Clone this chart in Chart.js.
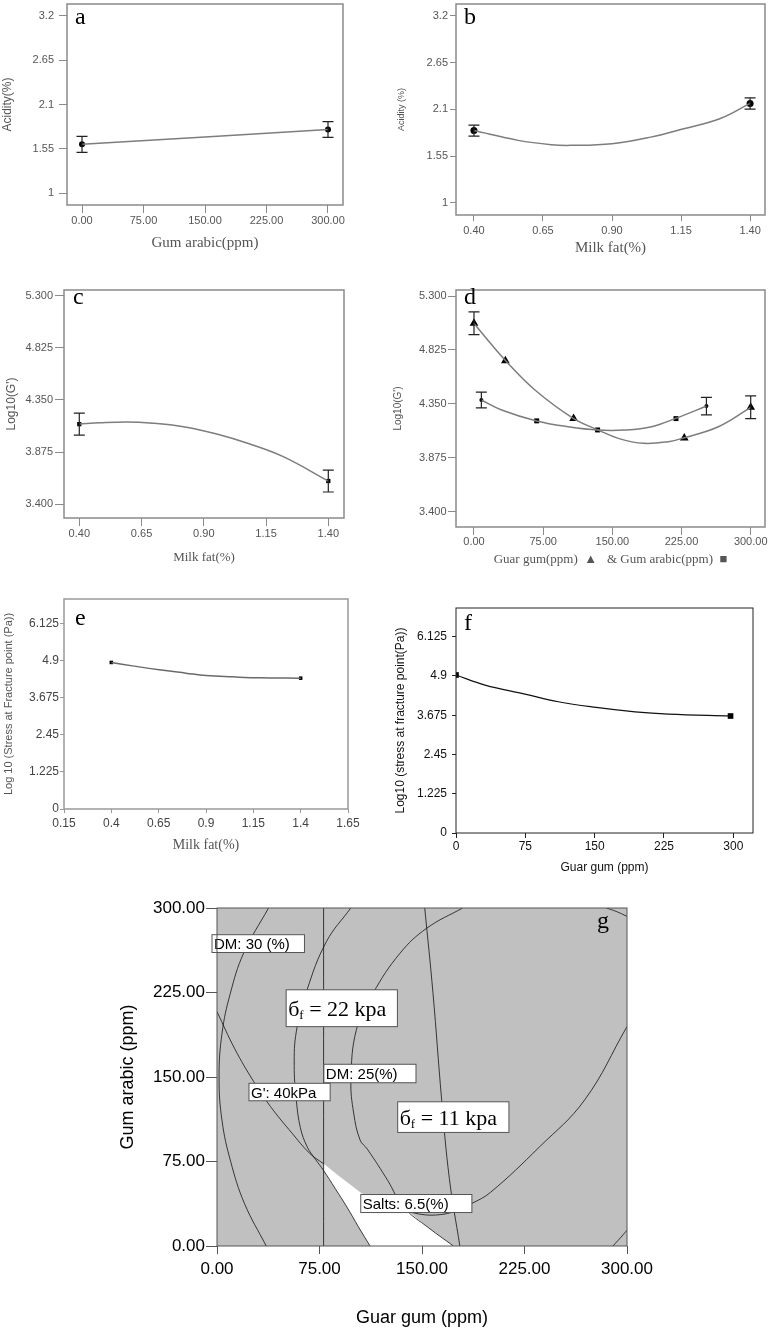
<!DOCTYPE html>
<html><head><meta charset="utf-8">
<script src="https://cdn.jsdelivr.net/npm/chart.js@4.4.1/dist/chart.umd.min.js"></script>
<style>
html,body{margin:0;padding:0;background:#fff;overflow:hidden;width:772px;height:1328px;position:relative}
canvas{position:absolute}
</style></head><body>
<canvas id="ca"></canvas><canvas id="cb"></canvas><canvas id="cc"></canvas><canvas id="cd"></canvas>
<canvas id="ce"></canvas><canvas id="cf"></canvas><canvas id="cg"></canvas>
<script>
// ---------- panel a : acidity vs gum arabic ----------
const aX = [0, 300];
const aY = [1.605, 1.79];
const aErr = [0.10, 0.097];
// ---------- panel b : acidity vs milk fat ----------
const bX = [0.40, 1.40];
const bY = [1.85, 2.17];
const bErr = [0.065, 0.066];
const bFitX = [0.40, 0.56, 0.68, 0.75, 0.90, 1.04, 1.16, 1.29, 1.40];
const bFitY = [1.85, 1.735, 1.684, 1.676, 1.696, 1.773, 1.872, 1.989, 2.17];
// ---------- panel c : log10(G') vs milk fat ----------
const cX = [0.40, 1.40];
const cY = [4.13, 3.612];
const cErr = [0.10, 0.10];
const cFitX = [0.40, 0.483, 0.59, 0.684, 0.818, 0.952, 1.085, 1.219, 1.40];
const cFitY = [4.132, 4.143, 4.150, 4.141, 4.107, 4.040, 3.949, 3.834, 3.612];
// ---------- panel d : log10(G') vs guar gum (triangles) & gum arabic (squares) ----------
const dGuarX = [0, 34, 108, 228, 300];
const dGuarY = [5.06, 4.73, 4.22, 4.05, 4.32];
const dGuarErr = [0.10, null, null, null, 0.10];
const dGuarFitX = [0, 11.9, 34.3, 66.1, 107.7, 134.8, 156.5, 183.6, 210.7, 228, 264.9, 300];
const dGuarFitY = [5.059, 4.941, 4.730, 4.472, 4.222, 4.119, 4.046, 4.002, 4.017, 4.052, 4.148, 4.319];
const dArabX = [8, 68, 134, 219, 252];
const dArabY = [4.384, 4.20, 4.12, 4.22, 4.33];
const dArabErr = [0.07, null, null, null, 0.077];
const dArabFitX = [8, 30, 68, 102.3, 134.1, 163.7, 192.6, 218.6, 252.3];
const dArabFitY = [4.384, 4.296, 4.199, 4.148, 4.119, 4.119, 4.148, 4.222, 4.331];
// ---------- panel e : stress at fracture vs milk fat ----------
const eX = [0.4, 1.4];
const eY = [4.85, 4.33];
const eFitX = [0.40, 0.512, 0.653, 0.794, 0.90, 1.041, 1.182, 1.40];
const eFitY = [4.846, 4.737, 4.605, 4.496, 4.417, 4.373, 4.34, 4.33];
// ---------- panel f : stress at fracture vs guar gum ----------
const fX = [0, 297];
const fY = [4.93, 3.65];
const fFitX = [0, 31.4, 74.6, 110.7, 151.5, 193.7, 229.7, 297.2];
const fFitY = [4.93, 4.616, 4.334, 4.094, 3.918, 3.781, 3.709, 3.647];
// ---------- panel g : overlay contour plot ----------
const gDM30X = [37.7, 19.5, 9.7, 3.7, 1.5, 3.7, 10, 20, 36];
const gDM30Y = [300, 260, 224, 189, 150, 111, 75, 38, 0];
const gDM25X = [78, 78];
const gDM25Y = [0, 300];
const gS22X = [97.9, 80, 65.8, 58, 56.5, 58, 61, 66, 72, 78, 86.5, 95, 103.5, 112];
const gS22Y = [300, 270, 227, 190, 160, 130, 105, 88, 77, 67, 51, 34.7, 17, 0];
const gS11X = [179.7, 153.4, 134, 114, 102, 98, 100, 104.7, 110, 125, 136.3, 155, 173];
const gS11Y = [300, 282, 260, 224, 192, 147, 118, 94, 86, 58, 34.7, 16, 0];
const gGX = [0, 13, 26.8, 39, 55, 68, 78];
const gGY = [208, 175, 146, 124, 100, 82, 73];
const gLine4X = [152, 158, 164.4, 170, 177.7];
const gLine4Y = [300, 225, 129.6, 60, 0];
const gSaltX = [300, 269, 236, 200, 186.3, 172, 160, 150, 140];
const gSaltY = [194.8, 129.6, 88, 47.5, 37.7, 30, 27.5, 28, 30.5];
const gCornerTRX = [285, 292, 300];
const gCornerTRY = [300, 297, 292.6];
const gCornerBRX = [289.7, 295, 300];
const gCornerBRY = [0, 7, 14];
const gWhiteX = [78, 90, 106, 122, 136.3, 155, 173, 112, 103.5, 95, 86.5, 78];
const gWhiteY = [73, 61.4, 46.6, 40, 34.7, 16, 0, 0, 17, 34.7, 51, 67];
// ---------- tick values / labels ----------
const ticksAcid = [1, 1.55, 2.1, 2.65, 3.2];
const labelsAcid = ['1', '1.55', '2.1', '2.65', '3.2'];
const ticksPpm = [0, 75, 150, 225, 300];
const labelsPpm2 = ['0.00', '75.00', '150.00', '225.00', '300.00'];
const labelsPpm0 = ['0', '75', '150', '225', '300'];
const ticksFat = [0.4, 0.65, 0.9, 1.15, 1.4];
const labelsFat = ['0.40', '0.65', '0.90', '1.15', '1.40'];
const ticksG = [3.4, 3.875, 4.35, 4.825, 5.3];
const labelsG = ['3.400', '3.875', '4.350', '4.825', '5.300'];
const ticksStress = [0, 1.225, 2.45, 3.675, 4.9, 6.125];
const labelsStress = ['0', '1.225', '2.45', '3.675', '4.9', '6.125'];
const ticksFatE = [0.15, 0.4, 0.65, 0.9, 1.15, 1.4, 1.65];
const labelsFatE = ['0.15', '0.4', '0.65', '0.9', '1.15', '1.4', '1.65'];

const zip = (xs, ys) => xs.map((x, i) => ({x: x, y: ys[i]}));
const SANS = "'Liberation Sans', Arial, sans-serif";
const SERIF = "'Liberation Serif', 'Times New Roman', serif";

function makeDecor(d) {
  return {
    id: 'decor',
    beforeDatasetsDraw(chart) {
      const {ctx, chartArea: a, scales: {x, y}} = chart;
      ctx.save();
      if (d.bg) { ctx.fillStyle = d.bg; ctx.fillRect(a.left, a.top, a.right - a.left, a.bottom - a.top); }
      if (d.region) {
        ctx.beginPath();
        d.region.x.forEach((v, i) => {
          const px = x.getPixelForValue(v), py = y.getPixelForValue(d.region.y[i]);
          if (i) ctx.lineTo(px, py); else ctx.moveTo(px, py);
        });
        ctx.closePath(); ctx.fillStyle = d.region.color; ctx.fill();
      }
      ctx.restore();
    },
    afterDatasetsDraw(chart) {
      const {ctx, chartArea: a, scales: {x, y}} = chart;
      ctx.save();
      chart.data.datasets.forEach(ds => {
        if (!ds.errors) return;
        ctx.strokeStyle = d.errColor || '#222'; ctx.lineWidth = 1.2;
        ds.data.forEach((p, i) => {
          const e = ds.errors[i]; if (e == null) return;
          const px = x.getPixelForValue(p.x), y1 = y.getPixelForValue(p.y + e), y2 = y.getPixelForValue(p.y - e);
          const w = 5.5;
          ctx.beginPath();
          ctx.moveTo(px, y1); ctx.lineTo(px, y2);
          ctx.moveTo(px - w, y1); ctx.lineTo(px + w, y1);
          ctx.moveTo(px - w, y2); ctx.lineTo(px + w, y2);
          ctx.stroke();
        });
      });
      (d.labels || []).forEach(L => {
        const x1 = x.getPixelForValue(L.box[0]), y1 = y.getPixelForValue(L.box[1]);
        const x2 = x.getPixelForValue(L.box[2]), y2 = y.getPixelForValue(L.box[3]);
        ctx.fillStyle = '#fff'; ctx.fillRect(x1, y1, x2 - x1, y2 - y1);
        ctx.strokeStyle = '#555'; ctx.lineWidth = 1; ctx.strokeRect(x1, y1, x2 - x1, y2 - y1);
        let cx = x1 + 2; const cy = (y1 + y2) / 2 + L.base;
        ctx.fillStyle = '#000'; ctx.textBaseline = 'alphabetic'; ctx.textAlign = 'left';
        L.parts.forEach(pt => {
          ctx.font = pt.font; ctx.fillText(pt.t, cx, cy + (pt.dy || 0));
          cx += ctx.measureText(pt.t).width;
        });
      });
      ctx.strokeStyle = d.frame; ctx.lineWidth = d.frameW;
      ctx.strokeRect(a.left, a.top, a.right - a.left, a.bottom - a.top);
      if (d.letter) {
        ctx.font = d.letter.size + 'px ' + SERIF; ctx.fillStyle = '#000'; ctx.textBaseline = 'alphabetic'; ctx.textAlign = 'left';
        ctx.fillText(d.letter.text, a.left + d.letter.x, a.top + d.letter.y);
      }
      ctx.restore();
    }
  };
}

function panel(id, box, area, o) {
  const cv = document.getElementById(id);
  cv.width = box.w; cv.height = box.h;
  cv.style.left = box.x + 'px'; cv.style.top = box.y + 'px';
  const lhX = o.xTitleFont.size * 1.2, lhY = o.yTitleFont.size * 1.2;
  new Chart(cv, {
    type: 'scatter',
    data: {datasets: o.datasets},
    options: {
      responsive: false, animation: false, devicePixelRatio: 1, events: [],
      layout: {padding: {left: 0, top: area.t - box.y, right: box.x + box.w - area.r, bottom: 0}},
      plugins: {legend: {display: false}, tooltip: {enabled: false}},
      scales: {
        x: {
          type: 'linear', position: 'bottom', min: o.xMin, max: o.xMax,
          afterBuildTicks: s => { s.ticks = o.xTicks.map(v => ({value: v})); },
          ticks: {autoSkip: false, maxRotation: 0, color: o.tickColor, font: o.tickFont, padding: o.xPad,
                  callback: (v, i) => o.xLabels[i]},
          grid: {drawOnChartArea: false, drawTicks: true, tickLength: o.xTl, tickColor: o.frame, tickWidth: o.tickW || 1},
          border: {display: false},
          title: {display: true, text: o.xTitle, font: o.xTitleFont, color: o.titleColor,
                  padding: {top: 0, bottom: (box.y + box.h - o.xTitleY) - lhX / 2}},
          afterFit: s => { s.height = box.y + box.h - area.b; s.paddingLeft = 0; s.paddingRight = 0; }
        },
        y: {
          type: 'linear', position: 'left', min: o.yMin, max: o.yMax,
          afterBuildTicks: s => { s.ticks = o.yTicks.map(v => ({value: v})); },
          ticks: {autoSkip: false, color: o.tickColor, font: o.tickFont, padding: o.yPad,
                  callback: (v, i) => o.yLabels[i]},
          grid: {drawOnChartArea: false, drawTicks: true, tickLength: o.yTl, tickColor: o.frame, tickWidth: o.tickW || 1},
          border: {display: false},
          title: {display: true, text: o.yTitle, font: o.yTitleFont, color: o.titleColor,
                  padding: {top: (o.yTitleX - box.x) - lhY / 2, bottom: 0}},
          afterFit: s => { s.width = area.l - box.x; s.paddingTop = 0; s.paddingBottom = 0; }
        }
      }
    },
    plugins: [makeDecor(o.decor)]
  });
}

const greyLine = '#7d7d7d';
const fitDs = (xs, ys, col, w) => ({data: zip(xs, ys), showLine: true, pointRadius: 0, borderColor: col, borderWidth: w, tension: 0.4, fill: false});
const ptDs = (xs, ys, style, r, errs) => ({data: zip(xs, ys), showLine: false, pointStyle: style, pointRadius: r,
  backgroundColor: '#000', borderColor: '#000', borderWidth: 0, errors: errs});

const topCommon = {
  tickColor: '#555', tickFont: {family: SANS, size: 11}, titleColor: '#555', frame: '#8a8a8a'
};

// a
panel('ca', {x: 0, y: 0, w: 386, h: 262}, {l: 67, t: 3, r: 343, b: 205}, Object.assign({}, topCommon, {
  xTitleFont: {family: SERIF, size: 15}, yTitleFont: {family: SANS, size: 12},
  xMin: -18.3, xMax: 318.3, yMin: 0.852, yMax: 3.348,
  xTicks: ticksPpm, xLabels: labelsPpm2, yTicks: ticksAcid, yLabels: labelsAcid,
  xTl: 8, xPad: 1, yTl: 8, yPad: 5,
  xTitle: 'Gum arabic(ppm)', xTitleY: 243, yTitle: 'Acidity(%)', yTitleX: 8,
  datasets: [fitDs(aX, aY, greyLine, 1.5), ptDs(aX, aY, 'circle', 3, aErr)],
  decor: {frame: '#8a8a8a', frameW: 1.5, letter: {text: 'a', x: 8, y: 20, size: 24}}
}));
// b
panel('cb', {x: 386, y: 0, w: 386, h: 262}, {l: 456, t: 3, r: 765, b: 215}, Object.assign({}, topCommon, {
  xTitleFont: {family: SERIF, size: 15}, yTitleFont: {family: SANS, size: 9},
  xMin: 0.335, xMax: 1.454, yMin: 0.856, yMax: 3.341,
  xTicks: ticksFat, xLabels: labelsFat, yTicks: ticksAcid, yLabels: labelsAcid,
  xTl: 6, xPad: 3, yTl: 6, yPad: 2,
  xTitle: 'Milk fat(%)', xTitleY: 248, yTitle: 'Acidity (%)', yTitleX: 402,
  datasets: [fitDs(bFitX, bFitY, greyLine, 1.5), ptDs(bX, bY, 'circle', 3.5, bErr)],
  decor: {frame: '#8a8a8a', frameW: 1.5, letter: {text: 'b', x: 8, y: 20, size: 24}}
}));
// c
panel('cc', {x: 0, y: 282, w: 386, h: 290}, {l: 64, t: 290, r: 344, b: 518}, Object.assign({}, topCommon, {
  xTitleFont: {family: SERIF, size: 13}, yTitleFont: {family: SANS, size: 12},
  xMin: 0.3386, xMax: 1.463, yMin: 3.275, yMax: 5.352,
  xTicks: ticksFat, xLabels: labelsFat, yTicks: ticksG, yLabels: labelsG,
  xTl: 8, xPad: 1, yTl: 9, yPad: 2,
  xTitle: 'Milk fat(%)', xTitleY: 558, yTitle: "Log10(G')", yTitleX: 12,
  datasets: [fitDs(cFitX, cFitY, greyLine, 1.5), ptDs(cX, cY, 'rect', 3, cErr)],
  decor: {frame: '#8a8a8a', frameW: 1.5, letter: {text: 'c', x: 9, y: 14, size: 24}}
}));
// d
panel('cd', {x: 386, y: 282, w: 386, h: 290}, {l: 456, t: 290, r: 765, b: 527}, Object.assign({}, topCommon, {
  xTitleFont: {family: SERIF, size: 13}, yTitleFont: {family: SANS, size: 10},
  xMin: -19.5, xMax: 315.5, yMin: 3.265, yMax: 5.353,
  xTicks: ticksPpm, xLabels: labelsPpm2, yTicks: ticksG, yLabels: labelsG,
  xTl: 8, xPad: 0, yTl: 8, yPad: 1.5,
  xTitle: 'Guar gum(ppm)  \u25B2   & Gum arabic(ppm)  \u25A0', xTitleY: 560, yTitle: "Log10(G')", yTitleX: 398,
  datasets: [
    fitDs(dGuarFitX, dGuarFitY, greyLine, 1.5),
    fitDs(dArabFitX, dArabFitY, greyLine, 1.5),
    ptDs(dGuarX, dGuarY, 'triangle', 5, dGuarErr),
    Object.assign(ptDs(dArabX, dArabY, 'rect', 3.5, dArabErr), {pointRadius: [2, 3.5, 3.5, 3.5, 2], pointStyle: ['circle', 'rect', 'rect', 'rect', 'circle']})
  ],
  decor: {frame: '#8a8a8a', frameW: 1.5, letter: {text: 'd', x: 8, y: 14, size: 24}}
}));
// e
panel('ce', {x: 0, y: 590, w: 386, h: 272}, {l: 64, t: 599, r: 348, b: 809}, {
  tickColor: '#444', tickFont: {family: SANS, size: 12}, titleColor: '#555',
  xTitleFont: {family: SERIF, size: 14}, yTitleFont: {family: SANS, size: 11}, frame: '#999',
  xMin: 0.15, xMax: 1.65, yMin: 0, yMax: 6.95,
  xTicks: ticksFatE, xLabels: labelsFatE, yTicks: ticksStress, yLabels: labelsStress,
  xTl: 4, xPad: 3, yTl: 4, yPad: 1,
  xTitle: 'Milk fat(%)', xTitleY: 845, yTitle: 'Log 10 (Stress at Fracture point (Pa))', yTitleX: 9,
  datasets: [fitDs(eFitX, eFitY, '#6a6a6a', 1.5), ptDs(eX, eY, 'rect', 2.5, null)],
  decor: {frame: '#999', frameW: 1.5, letter: {text: 'e', x: 11, y: 26, size: 24}}
});
// f
panel('cf', {x: 386, y: 590, w: 386, h: 286}, {l: 456, t: 608, r: 753, b: 833}, {
  tickColor: '#111', tickFont: {family: SANS, size: 12}, titleColor: '#111',
  xTitleFont: {family: SANS, size: 12}, yTitleFont: {family: SANS, size: 12}, frame: '#222',
  xMin: 0, xMax: 321.3, yMin: 0, yMax: 7.02,
  xTicks: ticksPpm, xLabels: labelsPpm0, yTicks: ticksStress, yLabels: labelsStress,
  xTl: 5, xPad: 1.5, yTl: 4, yPad: 5,
  xTitle: 'Guar gum (ppm)', xTitleY: 868, yTitle: 'Log10 (stress at fracture point(Pa))', yTitleX: 401,
  datasets: [fitDs(fFitX, fFitY, '#111', 1.2), ptDs(fX, fY, 'rect', 4, null)],
  decor: {frame: '#222', frameW: 1, letter: {text: 'f', x: 8, y: 22, size: 24}}
});
// g
const gLine = (xs, ys) => ({data: zip(xs, ys), showLine: true, pointRadius: 0, borderColor: '#111', borderWidth: 0.8, tension: 0.4, fill: false});
const big = '22px ' + SERIF, sub = '13px ' + SERIF, small = '15px ' + SANS;
panel('cg', {x: 100, y: 895, w: 590, h: 440}, {l: 217, t: 908, r: 627, b: 1246}, {
  tickColor: '#000', tickFont: {family: SANS, size: 17}, titleColor: '#000',
  xTitleFont: {family: SANS, size: 18}, yTitleFont: {family: SANS, size: 18}, frame: '#555',
  xMin: 0, xMax: 300, yMin: 0, yMax: 300,
  xTicks: ticksPpm, xLabels: labelsPpm2, yTicks: ticksPpm, yLabels: labelsPpm2,
  xTl: 8, xPad: 5.2, yTl: 11, yPad: 1,
  xTitle: 'Guar gum (ppm)', xTitleY: 1318, yTitle: 'Gum arabic (ppm)', yTitleX: 128,
  datasets: [
    gLine(gDM30X, gDM30Y), gLine(gDM25X, gDM25Y), gLine(gS22X, gS22Y), gLine(gS11X, gS11Y),
    gLine(gGX, gGY), gLine(gLine4X, gLine4Y), gLine(gSaltX, gSaltY),
    gLine(gCornerTRX, gCornerTRY), gLine(gCornerBRX, gCornerBRY)
  ],
  decor: {
    bg: '#c0c0c0', frame: '#555', frameW: 1,
    region: {x: gWhiteX, y: gWhiteY, color: '#ffffff'},
    letter: {text: 'g', x: 380, y: 20, size: 24},
    labels: [
      {box: [-3.65, 276.3, 64.0, 260.5], base: 5.5, parts: [{t: 'DM: 30 (%)', font: small}]},
      {box: [50.6, 227.4, 132.0, 194.7], base: 7.5, parts: [{t: '\u0431', font: big}, {t: 'f', font: sub, dy: 3}, {t: ' = 22 kpa', font: big}]},
      {box: [78.2, 161.3, 145.6, 144.9], base: 5.5, parts: [{t: 'DM: 25(%)', font: small}]},
      {box: [23.4, 144.4, 82.8, 128.9], base: 5.5, parts: [{t: "G': 40kPa", font: small}]},
      {box: [132.2, 128.0, 213.6, 100.8], base: 7.5, parts: [{t: '\u0431', font: big}, {t: 'f', font: sub, dy: 3}, {t: ' = 11 kpa', font: big}]},
      {box: [105.2, 45.7, 186.5, 29.7], base: 5.5, parts: [{t: 'Salts: 6.5(%)', font: small}]}
    ]
  }
});
</script>
</body></html>
